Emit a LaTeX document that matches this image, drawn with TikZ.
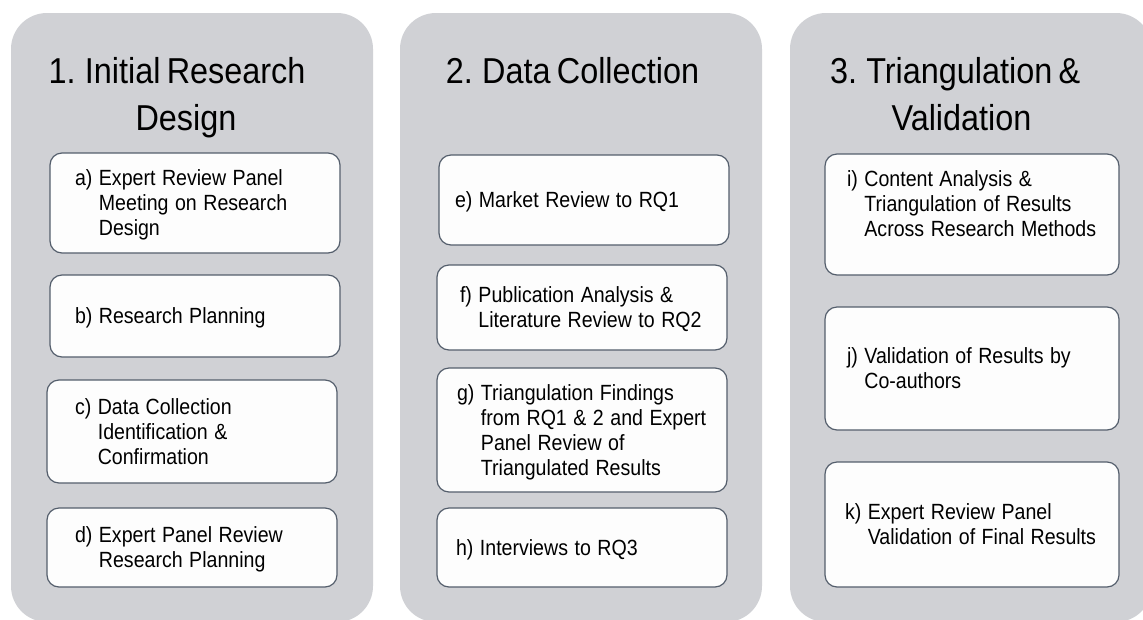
\documentclass[tikz,border=0pt]{standalone}
\usepackage{fontspec}
\usepackage{graphicx}
\setmainfont{Liberation Sans}
\newcommand{\sqz}[1]{\scalebox{0.89}[1]{#1}}
\newcommand{\tsqz}[1]{\scalebox{0.9}[1]{\spaceskip=7pt plus 1pt\relax #1}}
\definecolor{panelgrey}{RGB}{208,209,213}
\definecolor{boxline}{RGB}{84,94,108}
\definecolor{boxfill}{RGB}{253,253,253}
\tikzset{
  panel/.style={fill=panelgrey, rounded corners=36pt, inner sep=0pt, outer sep=0pt,
    anchor=north west, minimum width=362pt, minimum height=609pt},
  paneltitle/.style={font=\fontsize{36}{47}\selectfont, align=center, inner sep=0pt},
  itembox/.style={draw=boxline, fill=boxfill, line width=1.2pt, rounded corners=12pt,
    anchor=north west, align=left, inner ysep=0pt, outer sep=0pt,
    font=\fontsize{22}{25}\selectfont, text height=15.75pt},
  l1/.style={text depth=0pt},
  l2/.style={text depth=25pt},
  l3/.style={text depth=50pt},
  l4/.style={text depth=75pt},
}
\begin{document}
\begin{tikzpicture}[x=1pt,y=-1pt]
\useasboundingbox (0,0) rectangle (1143,619);
\fill[white] (0,0) rectangle (1143,619);
\clip (0,0) rectangle (1143,619);

% panels
\node[panel] (p1) at (11,13) {};
\node[panel] (p2) at (400,13) {};
\node[panel] (p3) at (790,13) {};

% titles
\node[paneltitle, anchor=north] (t1) at (186,57) {\tsqz{1. Initial Research\kern20pt}\\\tsqz{Design}};
\node[paneltitle, anchor=base] (t2) at (572.5,83) {\tsqz{2. Data Collection}};
\node[paneltitle, anchor=north] (t3) at (961.5,57) {\tsqz{3. Triangulation \&\kern14pt}\\\tsqz{Validation}};

% column 1
\node[itembox, l3, minimum height=100pt, inner xsep=25pt, text width=240pt] (a) at (50,153)
  {\sqz{a)\ Expert Review Panel}\\\sqz{\phantom{a)\ }Meeting on Research}\\\sqz{\phantom{a)\ }Design}};
\node[itembox, l1, minimum height=82pt, inner xsep=25pt, text width=240pt] (b) at (50,275)
  {\sqz{b)\ Research Planning}};
\node[itembox, l3, minimum height=103pt, inner xsep=28pt, text width=234pt] (c) at (47,380)
  {\sqz{c)\ Data Collection}\\\sqz{\phantom{c)\ }Identification \&}\\\sqz{\phantom{c)\ }Confirmation}};
\node[itembox, l2, minimum height=79pt, inner xsep=28pt, text width=234pt] (d) at (47,508)
  {\sqz{d)\ Expert Panel Review}\\\sqz{\phantom{d)\ }Research Planning}};

% column 2
\node[itembox, l1, minimum height=90pt, inner xsep=16pt, text width=258pt] (e) at (439,155)
  {\sqz{e)\ Market Review to RQ1}};
\node[itembox, l2, minimum height=85pt, inner xsep=23pt, text width=244pt] (f) at (437,265)
  {\sqz{f)\ Publication Analysis \&}\\\sqz{\phantom{f)\ }Literature Review to RQ2}};
\node[itembox, l4, minimum height=124pt, inner xsep=20pt, text width=250pt] (g) at (437,368)
  {\sqz{g)\ Triangulation Findings}\\\sqz{\phantom{g)\ }from RQ1 \& 2 and Expert}\\\sqz{\phantom{g)\ }Panel Review of}\\\sqz{\phantom{g)\ }Triangulated Results}};
\node[itembox, l1, minimum height=79pt, inner xsep=19pt, text width=252pt] (h) at (437,508)
  {\sqz{h)\ Interviews to RQ3}};

% column 3
\node[itembox, text depth=71pt, minimum height=121pt, inner xsep=22pt, text width=250pt] (i) at (825,154)
  {\sqz{i)\ Content Analysis \&}\\\sqz{\phantom{i)\ }Triangulation of Results}\\\sqz{\phantom{i)\ }Across Research Methods}};
\node[itembox, l2, minimum height=123pt, inner xsep=22pt, text width=250pt] (j) at (825,307)
  {\sqz{j)\ Validation of Results by}\\\sqz{\phantom{j)\ }Co-authors}};
\node[itembox, l2, minimum height=125pt, inner xsep=20pt, text width=254pt] (k) at (825,462)
  {\sqz{k)\ Expert Review Panel}\\\sqz{\phantom{k)\ }Validation of Final Results}};
\end{tikzpicture}
\end{document}
